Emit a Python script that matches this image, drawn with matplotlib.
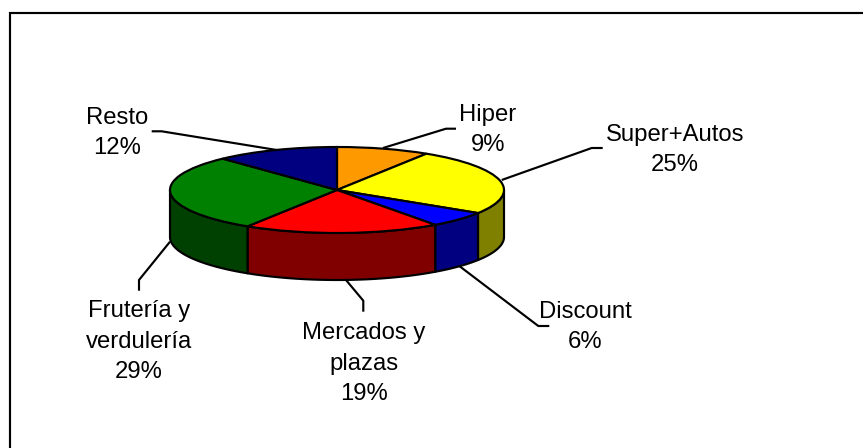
import numpy as np
import matplotlib
matplotlib.use("Agg")
import matplotlib.pyplot as plt

# Chart data
names = ["Hiper", "Super+Autos", "Discount", "Mercados y\nplazas", "Frutería y\nverdulería", "Resto"]
values = [9, 25, 6, 19, 29, 12]
top_colors = ["#FF9900", "#FFFF00", "#0000FF", "#FF0000", "#008000", "#000080"]
side_colors = ["#804C00", "#808000", "#000080", "#800000", "#004000", "#000040"]

W, H = 863, 448
cx, cy = 337, 190     # pie centre in pixels
rx, ry = 167, 43      # ellipse radii in pixels
depth = 47 / ry       # wall height, in pie units
lw = 1.55

plt.rcParams['font.family'] = ['Liberation Sans', 'DejaVu Sans']

fig = plt.figure(figsize=(W / 100, H / 100), dpi=100)

# Pie axes: unit circle gets squashed to the ellipse
ax = fig.add_axes([0, 0, 1, 1])
ax.pie(values, colors=top_colors, startangle=90, counterclock=False, radius=1, center=(0, 0),
       wedgeprops={'edgecolor': 'black', 'linewidth': lw, 'zorder': 5})
ax.set_aspect('auto')
ax.set_xlim(-cx / rx, (W - cx) / rx)
ax.set_ylim((cy - H) / ry, cy / ry)
ax.axis('off')

# Side walls, only the front half (90 to 270 degrees clockwise from the top) shows
edges = np.cumsum([0] + values) / sum(values) * 360
for start, end, col in zip(edges[:-1], edges[1:], side_colors):
    a, b = max(start, 90), min(end, 270)
    if a >= b:
        continue
    t = np.radians(np.linspace(a, b, 60))
    x = np.sin(t)
    y = np.cos(t)
    ax.fill(np.r_[x, x[::-1]], np.r_[y, y[::-1] - depth], facecolor=col, edgecolor='black',
            linewidth=lw, zorder=4, joinstyle='round')

# Overlay in pixel coordinates for the frame, leaders and labels
over = fig.add_axes([0, 0, 1, 1], facecolor='none')
over.set_xlim(0, W)
over.set_ylim(H, 0)
over.axis('off')

over.plot([10, 10, W], [H, 13, 13], color='black', lw=lw, solid_joinstyle='miter')

leaders = [
    ([456, 446, 383], [128.7, 128.7, 148]),
    ([602.7, 591.7, 501.7], [148, 148, 180]),
    ([549.3, 538.3, 459.3], [326, 326, 266]),
    ([363.3, 363.3, 346], [311.7, 300.7, 280]),
    ([139, 139, 170], [290.7, 280, 241.7]),
    ([151.7, 161.7, 276.7], [131.3, 131.3, 150]),
]
for lx, ly in leaders:
    over.plot(lx, ly, color='black', lw=lw, solid_capstyle='butt')

label_x = [488, 675, 585, 364, 139, 117]
label_y = [130, 150, 327, 364, 342, 133]
for name, val, tx, ty in zip(names, values, label_x, label_y):
    over.text(tx, ty, f"{name}\n{val}%", ha='center', va='center', multialignment='center',
              fontsize=17.2, linespacing=1.5, color='black')

fig.savefig("out.png", dpi=100, facecolor='white')
